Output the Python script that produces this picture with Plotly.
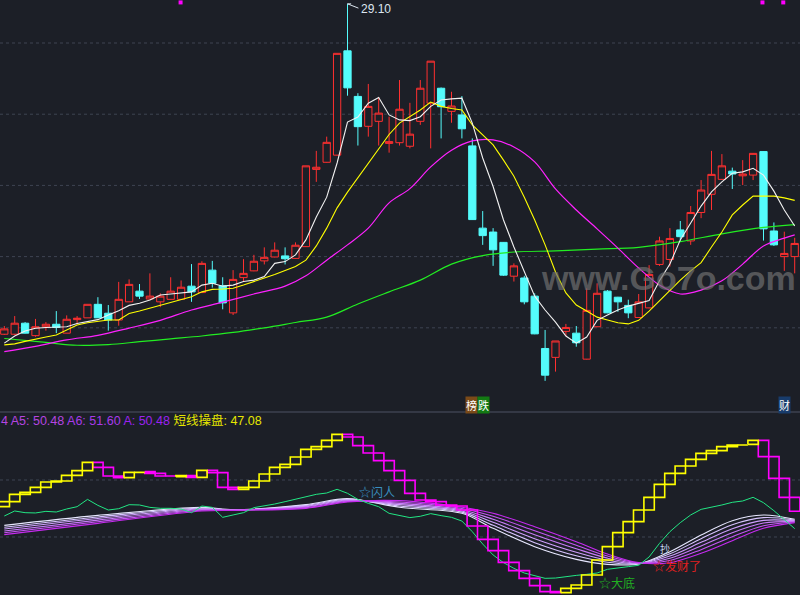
import plotly.graph_objects as go

BG = "#1c1f27"

# ---------------- data ----------------
BARS = list(range(77))

OPEN = [19.82, 19.82, 20.13, 19.78, 20.03, 20.10, 19.85, 20.23, 20.28, 20.66,
        20.41, 20.22, 20.73, 21.03, 20.81, 20.73, 20.80, 20.80, 21.17, 20.99,
        21.62, 21.18, 20.42, 21.41, 21.60, 21.88, 21.99, 22.02, 21.95, 22.28,
        24.45, 24.65, 24.85, 27.78, 26.50, 25.66, 25.80, 25.18, 25.20, 25.10,
        25.80, 26.31, 26.73, 26.08, 25.98, 25.11, 22.80, 22.69, 22.40, 21.45,
        21.40, 20.89, 19.42, 19.17, 19.90, 19.85, 19.12, 20.03, 21.03, 20.86,
        20.63, 20.29, 20.56, 21.78, 21.92, 22.75, 22.44, 23.24, 23.75, 24.17,
        24.40, 24.27, 24.29, 24.95, 22.72, 22.00, 22.00]
HIGH = [20.05, 20.33, 20.16, 20.25, 20.16, 20.47, 20.35, 20.33, 20.66, 20.86,
        20.64, 21.29, 21.36, 21.23, 21.53, 20.97, 21.42, 21.33, 21.79, 21.87,
        21.88, 21.42, 21.62, 21.93, 22.05, 22.26, 22.40, 22.26, 22.40, 24.55,
        24.97, 25.37, 27.71, 29.10, 26.59, 26.85, 26.48, 25.93, 26.96, 26.32,
        26.96, 27.49, 26.75, 26.63, 26.51, 25.32, 23.28, 22.80, 22.41, 21.81,
        21.46, 20.97, 19.94, 19.63, 20.11, 20.05, 21.11, 21.25, 21.06, 20.87,
        20.79, 20.95, 21.76, 22.56, 22.80, 23.00, 23.42, 24.15, 24.97, 24.88,
        24.50, 24.71, 24.91, 24.96, 22.96, 22.70, 22.53]
LOW = [19.80, 19.80, 19.84, 19.75, 19.92, 19.85, 19.85, 20.10, 20.28, 20.28,
       19.92, 20.06, 20.73, 20.81, 20.80, 20.58, 20.79, 20.79, 20.73, 20.98,
       21.13, 20.52, 20.36, 21.30, 21.59, 21.78, 21.98, 21.78, 21.94, 22.27,
       24.10, 24.64, 24.84, 26.52, 25.12, 25.37, 25.12, 24.92, 25.12, 25.04,
       25.70, 25.04, 25.32, 25.76, 25.32, 23.03, 22.33, 21.74, 21.46, 21.30,
       20.66, 19.82, 18.51, 18.77, 19.77, 19.47, 19.11, 20.02, 20.41, 20.45,
       20.27, 20.28, 20.55, 21.74, 21.72, 22.45, 22.33, 23.08, 23.31, 24.16,
       23.90, 24.01, 24.15, 22.45, 22.30, 21.60, 21.53]
CLOSE = [19.97, 20.13, 19.85, 20.03, 20.10, 20.01, 20.24, 20.27, 20.66, 20.28,
         20.22, 20.80, 21.22, 20.89, 20.89, 20.89, 21.03, 21.14, 21.01, 21.81,
         21.25, 20.70, 21.36, 21.53, 21.87, 21.98, 22.18, 21.94, 22.32, 24.55,
         24.51, 25.21, 27.71, 26.74, 25.65, 26.22, 26.03, 25.23, 26.14, 25.44,
         26.73, 27.49, 26.21, 26.23, 25.59, 23.04, 22.59, 22.19, 21.48, 21.74,
         20.73, 19.83, 18.67, 19.63, 20.01, 19.58, 20.49, 20.97, 20.42, 20.73,
         20.42, 20.73, 21.50, 22.44, 22.51, 22.56, 23.24, 23.87, 24.31, 24.55,
         24.32, 24.32, 24.90, 22.78, 22.33, 22.09, 22.37]

MA5 = [19.57, 19.77, 19.91, 19.99, 20.01, 20.02, 20.03, 20.12, 20.18, 20.23,
       20.36, 20.48, 20.63, 20.69, 20.78, 20.92, 20.95, 20.97, 21.01, 21.20,
       21.25, 21.17, 21.20, 21.30, 21.34, 21.44, 21.81, 21.86, 22.05, 22.47,
       23.11, 23.67, 24.63, 25.78, 25.92, 26.31, 26.47, 25.98, 25.84, 25.82,
       25.93, 26.22, 26.40, 26.43, 26.45, 25.75, 24.77, 23.97, 23.03, 22.27,
       21.57, 20.89, 20.50, 20.16, 19.77, 19.57, 19.74, 20.21, 20.36, 20.50,
       20.61, 20.70, 20.77, 21.32, 21.79, 22.47, 22.94, 23.42, 23.82, 24.10,
       24.34, 24.38, 24.48, 24.29, 23.84, 23.31, 22.86]
MA10 = [19.52, 19.55, 19.62, 19.69, 19.74, 19.80, 19.94, 20.08, 20.14, 20.18,
        20.22, 20.22, 20.40, 20.47, 20.55, 20.64, 20.72, 20.80, 20.87, 21.01,
        21.08, 21.09, 21.11, 21.20, 21.29, 21.40, 21.50, 21.60, 21.72, 21.90,
        22.30, 22.80, 23.37, 23.81, 24.21, 24.60, 25.02, 25.43, 25.75, 25.94,
        26.12, 26.34, 26.22, 26.16, 26.12, 25.70, 25.42, 25.14, 24.71, 24.26,
        23.67, 23.03, 22.33, 21.57, 20.98, 20.64, 20.47, 20.30, 20.22, 20.14,
        20.11, 20.21, 20.47, 20.77, 21.06, 21.34, 21.60, 21.83, 22.27, 22.69,
        23.17, 23.45, 23.70, 23.70, 23.70, 23.65, 23.58]
MA20_BARS = [0, 3, 6, 9, 12, 15, 18, 21, 24, 27, 29, 31, 33, 35, 37, 39, 41, 43,
             45, 47, 49, 51, 53, 55, 57, 59, 61, 63, 65, 67, 69, 71, 73, 75, 76]
MA20 = [19.33, 19.48, 19.66, 19.79, 19.99, 20.21, 20.50, 20.72, 20.95, 21.17,
        21.46, 21.90, 22.33, 22.80, 23.51, 23.91, 24.52, 24.99, 25.25, 25.28,
        25.08, 24.66, 23.90, 23.31, 22.78, 22.24, 21.68, 21.20, 20.95, 21.06,
        21.32, 21.79, 22.30, 22.52, 22.61]
MA60_BARS = [0, 4, 7, 10, 13, 16, 19, 22, 25, 28, 31, 34, 37, 40, 43, 46, 49,
             53, 57, 61, 65, 69, 73, 76]
MA60 = [19.70, 19.59, 19.51, 19.53, 19.61, 19.69, 19.77, 19.87, 20.00, 20.15,
        20.30, 20.67, 21.01, 21.34, 21.79, 22.03, 22.13, 22.16, 22.21, 22.26,
        22.42, 22.64, 22.82, 22.90]

GRID_PRICES = [28, 26, 24, 22, 20]
PEAK_BAR = 33
PEAK_LABEL = "29.10"
TOP_MARK_BARS = [16.95, 72.9, 74.9]

# lower indicator
STAIR_PREV = 51.93
STAIR = [57.19, 64.91, 67.02, 72.28, 77.89, 78.95, 84.91, 89.82, 98.60, 93.33,
         84.21, 82.46, 88.07, 88.77, 87.02, 84.21, 83.51, 84.56, 82.81, 90.18,
         87.72, 72.28, 70.18, 72.28, 78.95, 86.32, 93.33, 96.49, 104.21, 112.28,
         115.09, 121.75, 128.07, 125.26, 116.14, 108.42, 100.35, 89.82, 79.65, 65.96,
         58.95, 57.19, 53.68, 52.63, 48.42, 31.58, 17.54, 5.61, -6.67, -15.44,
         -23.51, -31.23, -37.54, -38.60, -34.04, -30.53, -20.00, -4.21, 9.82, 24.56,
         36.14, 48.42, 61.75, 75.44, 87.02, 94.74, 101.75, 108.07, 110.88, 115.09,
         116.84, 117.54, 121.75, 104.56, 81.75, 61.75, 47.08]
GREEN = [42.1, 47.4, 45.6, 45.3, 47.0, 46.3, 49.5, 51.9, 59.6, 53.3,
         48.4, 49.8, 54.0, 53.7, 51.2, 50.2, 50.2, 49.5, 45.6, 52.6,
         51.2, 40.7, 43.2, 45.6, 50.9, 52.6, 54.7, 57.2, 59.6, 62.5,
         64.9, 66.3, 70.2, 66.0, 59.6, 55.4, 51.9, 44.9, 42.8, 40.4,
         41.8, 44.6, 42.5, 40.7, 36.8, 25.6, 12.6, 1.1, -7.0, -13.0,
         -17.9, -21.1, -23.5, -23.2, -21.4, -20.4, -19.3, -17.9, -14.0, -12.3,
         -11.2, -9.8, -1.0, 13.3, 25.6, 35.1, 43.2, 49.1, 51.2, 53.7,
         56.5, 57.9, 61.8, 56.1, 47.7, 37.9, 28.8]
A_BARS = [0, 9, 19, 22, 29, 33, 38, 44, 47, 51, 55, 58, 61, 64, 67, 70, 73, 76]
A1 = [32.28, 42.81, 51.23, 48.77, 54.04, 60.35, 51.23, 44.91, 29.12, 9.82, -3.51, -8.77, -8.42, 4.56, 22.11, 37.19, 43.16, 38.60]
A2 = [30.32, 41.12, 50.46, 48.63, 53.26, 59.65, 52.63, 46.18, 32.28, 14.04, 0.21, -6.60, -8.14, 2.25, 18.25, 32.98, 40.35, 37.89]
A3 = [28.35, 39.44, 49.68, 48.49, 52.49, 58.95, 54.04, 47.44, 35.44, 18.25, 3.93, -4.42, -7.86, -0.07, 14.39, 28.77, 37.54, 37.19]
A4 = [26.39, 37.75, 48.91, 48.35, 51.72, 58.25, 55.44, 48.70, 38.60, 22.46, 7.65, -2.25, -7.58, -2.39, 10.53, 24.56, 34.74, 36.49]
A5 = [24.42, 36.07, 48.14, 48.21, 50.95, 57.54, 56.84, 49.96, 41.75, 26.67, 11.37, -0.07, -7.30, -4.70, 6.67, 20.35, 31.93, 35.79]
A6 = [22.46, 34.39, 47.37, 48.07, 50.18, 56.84, 58.25, 51.23, 44.91, 30.88, 15.09, 2.11, -7.02, -7.02, 2.81, 16.14, 29.12, 35.09]
A_LINES = [A1, A2, A3, A4, A5, A6]
A_COLORS = ["#e8e8ff", "#d8c4ff", "#cf9ffd", "#c97cf8", "#c655f4", "#c62af0"]
LOWER_GRID = [80, 20]

SIGNALS = [  # (text, bar, value, color)
    ("☆闪人", 34.0, 67.4, "#3a8fc0"),
    ("☆大底", 57.1, -27.4, "#22b022"),
    ("☆发财了", 62.3, -10.2, "#e02020"),
]

# ---------------- figure ----------------
fig = go.Figure()

fig.add_trace(go.Candlestick(
    x=BARS, open=OPEN, high=HIGH, low=LOW, close=CLOSE,
    increasing=dict(line=dict(color="#ff3030", width=1), fillcolor=BG),
    decreasing=dict(line=dict(color="#54fcfc", width=1), fillcolor="#54fcfc"),
    whiskerwidth=0, xaxis="x", yaxis="y", hoverinfo="skip"))

fig.add_trace(go.Scatter(x=MA60_BARS, y=MA60, mode="lines",
                         line=dict(color="#22ee22", width=1.2, shape="spline"), xaxis="x", yaxis="y"))
fig.add_trace(go.Scatter(x=MA20_BARS, y=MA20, mode="lines",
                         line=dict(color="#ff22ff", width=1.2, shape="spline"), xaxis="x", yaxis="y"))
fig.add_trace(go.Scatter(x=BARS, y=MA10, mode="lines",
                         line=dict(color="#ffff00", width=1.1), xaxis="x", yaxis="y"))
fig.add_trace(go.Scatter(x=BARS, y=MA5, mode="lines",
                         line=dict(color="#f2f2f2", width=1.1), xaxis="x", yaxis="y"))
fig.add_trace(go.Scatter(x=TOP_MARK_BARS, y=[29.14] * len(TOP_MARK_BARS), mode="markers",
                         marker=dict(symbol="square", size=4, color="#ff00ff"), xaxis="x", yaxis="y"))

# lower panel
for vals, col in zip(A_LINES, A_COLORS):
    fig.add_trace(go.Scatter(x=A_BARS, y=vals, mode="lines",
                             line=dict(color=col, width=1.1, shape="spline", smoothing=0.9),
                             xaxis="x2", yaxis="y2"))
fig.add_trace(go.Scatter(x=BARS, y=GREEN, mode="lines",
                         line=dict(color="#22e684", width=1), xaxis="x2", yaxis="y2"))


def stair_boxes(rising):
    xs, ys = [], []
    for i, cur in enumerate(STAIR):
        prev = STAIR_PREV if i == 0 else STAIR[i - 1]
        if (cur >= prev) == rising:
            x0, x1 = BARS[i] - 0.5, BARS[i] + 0.5
            xs += [x0, x1, x1, x0, x0, None]
            ys += [prev, prev, cur, cur, prev, None]
    return xs, ys


for rising, col in [(False, "#ff00ff"), (True, "#ffff00")]:
    bx, by = stair_boxes(rising)
    fig.add_trace(go.Scatter(x=bx, y=by, mode="lines", line=dict(color=col, width=1.6),
                             xaxis="x2", yaxis="y2"))

shapes = []
for p in GRID_PRICES:
    shapes.append(dict(type="line", xref="paper", x0=0, x1=1, yref="y", y0=p, y1=p,
                       line=dict(color="#3e4452", width=1, dash="dot"), layer="below"))
for v in LOWER_GRID:
    shapes.append(dict(type="line", xref="paper", x0=0, x1=1, yref="y2", y0=v, y1=v,
                       line=dict(color="#3e4452", width=1, dash="dot"), layer="below"))
shapes.append(dict(type="line", xref="paper", x0=0, x1=1, yref="paper", y0=0.3076, y1=0.3076,
                   line=dict(color="#3c4250", width=1.5)))
# peak leader
shapes.append(dict(type="line", xref="x", yref="y", x0=PEAK_BAR, y0=HIGH[PEAK_BAR],
                   x1=PEAK_BAR + 1.05, y1=HIGH[PEAK_BAR] - 0.12, line=dict(color="#dce6f0", width=1)))
shapes.append(dict(type="line", xref="x", yref="y", x0=PEAK_BAR, y0=HIGH[PEAK_BAR],
                   x1=PEAK_BAR + 0.35, y1=HIGH[PEAK_BAR], line=dict(color="#dce6f0", width=1)))

CJK = "Noto Sans CJK SC"
ann = []
ann.append(dict(x=PEAK_BAR + 1.15, y=HIGH[PEAK_BAR] - 0.14, xref="x", yref="y", text=PEAK_LABEL,
                showarrow=False, xanchor="left", yanchor="middle",
                font=dict(family="Liberation Sans", size=12, color="#dce6f0")))
ann.append(dict(x=0.836, y=0.533, xref="paper", yref="paper", text="www.Go7o.com", showarrow=False,
                xanchor="center", yanchor="middle",
                font=dict(family="Liberation Sans", size=34, color="rgba(112,112,112,0.7)", weight="bold")))
legend_txt = ('<span style="color:#b545e0">4 A5: 50.48</span> '
              '<span style="color:#a83aea">A6: 51.60</span> '
              '<span style="color:#9b22f0">A: 50.48</span> '
              '<span style="color:#e6e600">短线操盘: 47.08</span>')
ann.append(dict(x=0.0, y=0.2941, xref="paper", yref="paper", text=legend_txt, showarrow=False,
                xanchor="left", yanchor="middle", borderpad=0,
                font=dict(family="Liberation Sans, " + CJK, size=12.5)))
for txt, xc, bg in [("榜", 471, "#7b4a18"), ("跌", 483.5, "#137a13"), ("财", 784, "#183c6c")]:
    ann.append(dict(x=xc / 800, y=0.3185, xref="paper", yref="paper", text=txt, showarrow=False,
                    xanchor="center", yanchor="middle",
                    bgcolor=bg, borderpad=0, font=dict(family=CJK, size=11, color="#ffffff")))
for txt, b, v, col in SIGNALS:
    ann.append(dict(x=b, y=v, xref="x2", yref="y2", text=txt, showarrow=False, xanchor="left",
                    yanchor="middle", borderpad=0, font=dict(family=CJK, size=12, color=col)))
ann.append(dict(x=63.5, y=7.5, xref="x2", yref="y2", text="抄", showarrow=False,
                xanchor="center", yanchor="middle", borderpad=0,
                font=dict(family=CJK, size=10, color="#c8d8f0")))

XR = [-0.413, 76.51]
fig.update_layout(
    width=800, height=595, margin=dict(l=0, r=0, t=0, b=0),
    paper_bgcolor=BG, plot_bgcolor=BG, showlegend=False, boxgap=0.3, boxgroupgap=0,
    xaxis=dict(range=XR, visible=False, rangeslider=dict(visible=False), anchor="y"),
    yaxis=dict(range=[17.972, 29.208], domain=[0.3277, 1], visible=False, anchor="x"),
    xaxis2=dict(range=XR, visible=False, anchor="y2"),
    yaxis2=dict(range=[-41.05, 150.53], domain=[0, 0.3059], visible=False, anchor="x2"),
    shapes=shapes, annotations=ann, hovermode=False,
)

fig.write_html("out.html", config={"displayModeBar": False, "staticPlot": True},
               post_script="document.body.style.margin='0';document.body.style.overflow='hidden';"
                           "document.body.style.background='" + BG + "';")
